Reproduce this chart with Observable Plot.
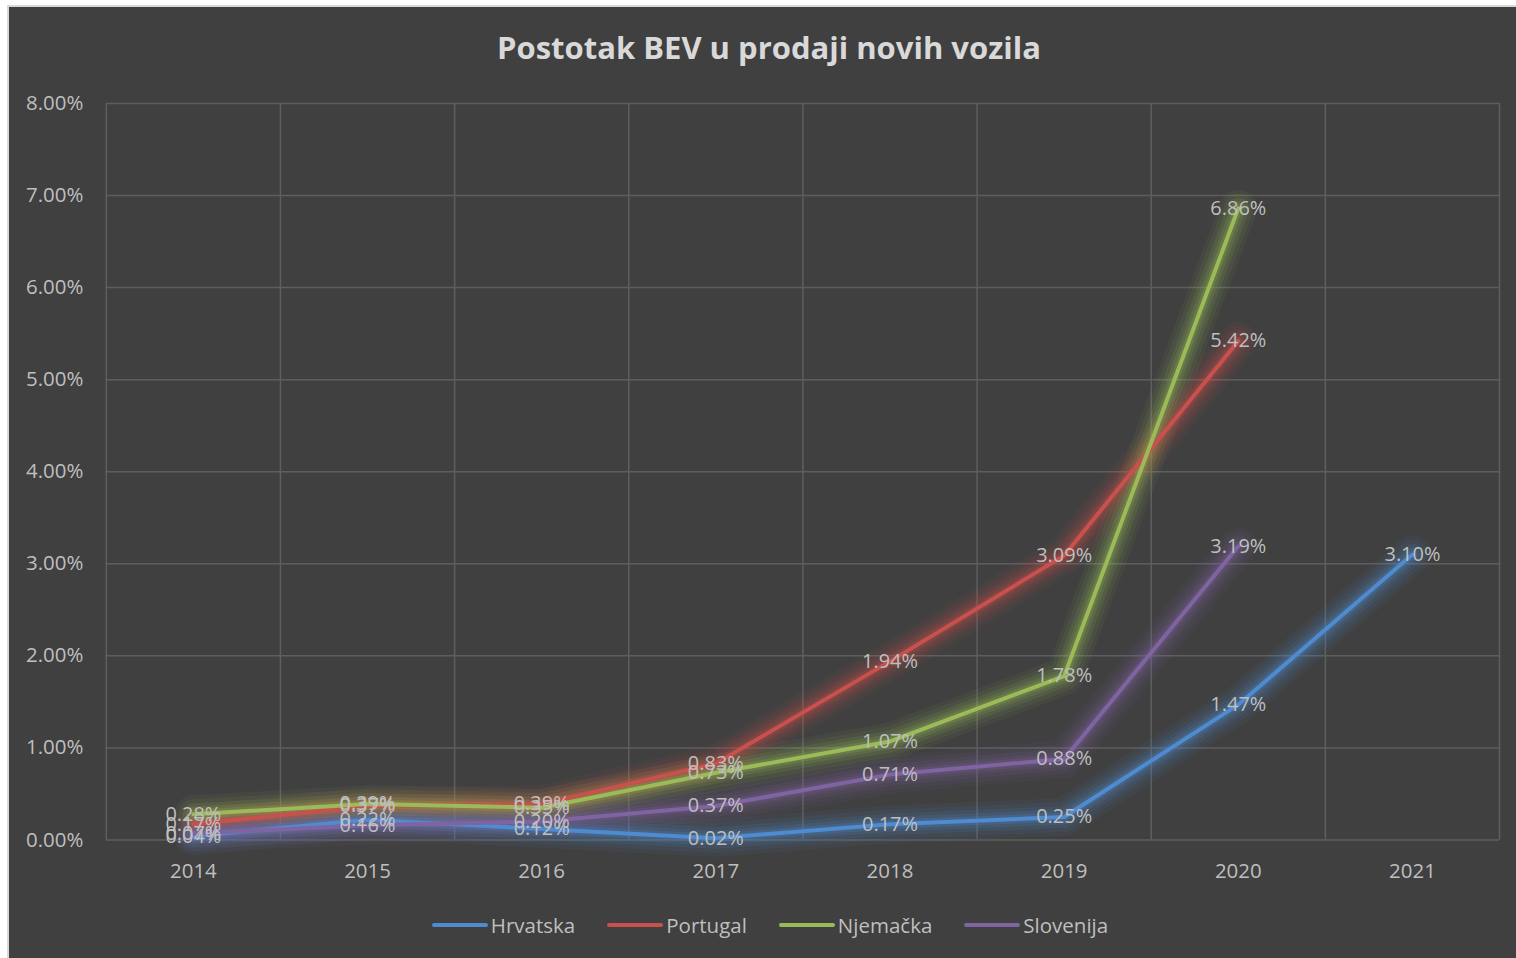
<!DOCTYPE html>
<html>
<head>
<meta charset="utf-8">
<script src="https://cdn.jsdelivr.net/npm/d3@7"></script>
<script src="https://cdn.jsdelivr.net/npm/@observablehq/plot@0.6"></script>
<style>
  html, body { margin: 0; padding: 0; background: #ffffff; }
  #frame { position: absolute; left: 7px; top: 5px; width: 1512px; height: 956px; background: #404040; border-top: 2px solid #d9d9d9; border-left: 2px solid #d9d9d9; box-sizing: border-box; overflow: hidden; font-family: "Open Sans", sans-serif; }
  #title { position: absolute; left: 0; width: 1520px; top: 19px; text-align: center; color: #d9d9d9; font-weight: bold; font-size: 31px; }
  #chart { position: absolute; left: -4px; top: 66px; }
  #legend { position: absolute; top: 904px; left: -3px; width: 1528px; display: flex; justify-content: center; gap: 32px; color: #bfbfbf; font-size: 20.5px; }
  .item { display: flex; align-items: center; }
  .sw { width: 56px; height: 4px; border-radius: 2px; margin-right: 3px; }
</style>
</head>
<body>
<div id="frame">
  <div id="title">Postotak BEV u prodaji novih vozila</div>
  <div id="chart"></div>
  <div id="legend"></div>
</div>
<script>
const years = [2014, 2015, 2016, 2017, 2018, 2019, 2020, 2021];
const seriesNames = ["Hrvatska", "Portugal", "Njemačka", "Slovenija"];
const seriesColors = ["#4F8BD0", "#C8504D", "#9BBB59", "#8064A2"];
const hrvatska  = [0.04, 0.22, 0.12, 0.02, 0.17, 0.25, 1.47, 3.10];
const portugal  = [0.17, 0.37, 0.39, 0.83, 1.94, 3.09, 5.42, null];
const njemacka  = [0.28, 0.39, 0.35, 0.73, 1.07, 1.78, 6.86, null];
const slovenija = [0.07, 0.16, 0.20, 0.37, 0.71, 0.88, 3.19, null];
const yTicks = [0, 1, 2, 3, 4, 5, 6, 7, 8];

const allSeries = [hrvatska, portugal, njemacka, slovenija];
const data = [];
allSeries.forEach((vals, i) => {
  vals.forEach((v, j) => {
    if (v != null) data.push({series: seriesNames[i], year: years[j], value: v});
  });
});
const bandEdges = years.map(y => y - 0.5).concat([years[years.length - 1] + 0.5]);

const glow = (w, o) => Plot.line(data, { x: "year", y: "value", z: "series", stroke: "series", strokeWidth: w, strokeOpacity: o, strokeLinejoin: "round", strokeLinecap: "round" });

const W = 1517, H = 819;
const plot = Plot.plot({
  width: W,
  height: H,
  marginLeft: 101,
  marginRight: 20,
  marginTop: 30,
  marginBottom: 51,
  style: { background: "transparent", color: "#bfbfbf", fontFamily: "'Open Sans', sans-serif", fontSize: "20.5px" },
  x: { domain: [years[0] - 0.5, years[years.length - 1] + 0.5], ticks: years, tickFormat: d => String(d), tickSize: 0, tickPadding: 24, label: null },
  y: { domain: [0, 8], ticks: yTicks, tickFormat: d => d.toFixed(2) + "%", tickSize: 0, tickPadding: 23, label: null },
  color: { domain: seriesNames, range: seriesColors },
  marks: [
    Plot.ruleY(yTicks, { stroke: "#5e5e5e", strokeWidth: 1.5 }),
    Plot.ruleX(bandEdges, { stroke: "#5e5e5e", strokeWidth: 1.5 }),
    glow(38, 0.06),
    glow(30, 0.08),
    glow(22, 0.11),
    glow(15, 0.15),
    glow(9, 0.2),
    Plot.line(data, { x: "year", y: "value", z: "series", stroke: "series", strokeWidth: 4 }),
    Plot.text(data, { x: "year", y: "value", text: d => d.value.toFixed(2) + "%", fill: "#bfbfbf", fontSize: 20 })
  ]
});

document.getElementById("chart").appendChild(plot);

const legend = d3.select("#legend");
seriesNames.forEach((name, i) => {
  const it = legend.append("div").attr("class", "item");
  it.append("div").attr("class", "sw").style("background", seriesColors[i]);
  it.append("span").text(name);
});
</script>
</body>
</html>
